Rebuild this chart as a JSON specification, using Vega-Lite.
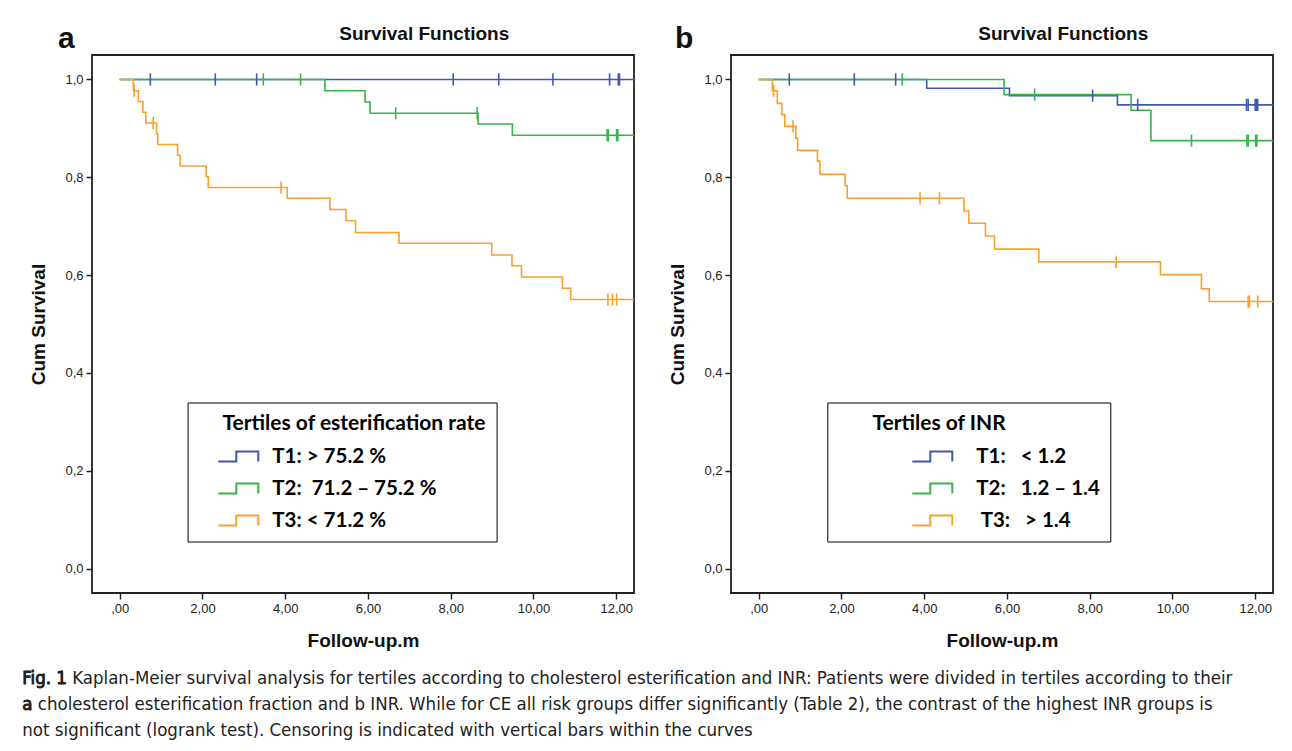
{
  "$schema": "https://vega.github.io/schema/vega-lite/v6.json",
  "background": "white",
  "padding": {"left": 22, "top": 23, "right": 5, "bottom": 5},
  "config": {
    "font": "Liberation Sans",
    "view": {"stroke": "#222", "strokeWidth": 1.8},
    "axis": {"labelFont": "Liberation Sans", "labelFontSize": 13, "labelColor": "#222", "tickColor": "#222", "tickSize": 6, "tickWidth": 1.5, "domain": false, "grid": false, "titleFont": "Liberation Sans", "titleFontSize": 19, "titleFontWeight": "bold", "titleColor": "#111", "labelPadding": 3},
    "legend": {"titleFont": "Lato", "titleFontSize": 21, "titleFontWeight": "bold", "titleColor": "black", "titlePadding": 12, "titleLimit": 400, "labelFont": "Lato", "labelFontSize": 20.5, "labelFontWeight": "bold", "labelColor": "black", "labelLimit": 300, "rowPadding": 10, "padding": 10, "strokeColor": "black", "fillColor": "white", "symbolStrokeWidth": 2, "symbolFillColor": "transparent", "symbolSize": 400}
  },
  "datasets": {
    "km": [
      {"panel": "a", "group": "T1", "t": 0, "s": 1, "c": 0},
      {"panel": "a", "group": "T1", "t": 0.74, "s": 1, "c": 1},
      {"panel": "a", "group": "T1", "t": 2.31, "s": 1, "c": 1},
      {"panel": "a", "group": "T1", "t": 3.31, "s": 1, "c": 1},
      {"panel": "a", "group": "T1", "t": 8.06, "s": 1, "c": 1},
      {"panel": "a", "group": "T1", "t": 9.16, "s": 1, "c": 1},
      {"panel": "a", "group": "T1", "t": 10.47, "s": 1, "c": 1},
      {"panel": "a", "group": "T1", "t": 11.84, "s": 1, "c": 1},
      {"panel": "a", "group": "T1", "t": 12.05, "s": 1, "c": 1},
      {"panel": "a", "group": "T1", "t": 12.08, "s": 1, "c": 1},
      {"panel": "a", "group": "T1", "t": 12.43, "s": 1, "c": 0},
      {"panel": "a", "group": "T2", "t": 0, "s": 1, "c": 0},
      {"panel": "a", "group": "T2", "t": 3.47, "s": 1, "c": 1},
      {"panel": "a", "group": "T2", "t": 4.37, "s": 1, "c": 1},
      {"panel": "a", "group": "T2", "t": 4.96, "s": 0.977, "c": 0},
      {"panel": "a", "group": "T2", "t": 5.93, "s": 0.954, "c": 0},
      {"panel": "a", "group": "T2", "t": 6.05, "s": 0.931, "c": 0},
      {"panel": "a", "group": "T2", "t": 6.67, "s": 0.931, "c": 1},
      {"panel": "a", "group": "T2", "t": 8.64, "s": 0.931, "c": 1},
      {"panel": "a", "group": "T2", "t": 8.66, "s": 0.909, "c": 0},
      {"panel": "a", "group": "T2", "t": 9.49, "s": 0.886, "c": 0},
      {"panel": "a", "group": "T2", "t": 11.78, "s": 0.886, "c": 1},
      {"panel": "a", "group": "T2", "t": 11.81, "s": 0.886, "c": 1},
      {"panel": "a", "group": "T2", "t": 12.01, "s": 0.886, "c": 1},
      {"panel": "a", "group": "T2", "t": 12.04, "s": 0.886, "c": 1},
      {"panel": "a", "group": "T2", "t": 12.43, "s": 0.886, "c": 0},
      {"panel": "a", "group": "T3", "t": 0, "s": 1, "c": 0},
      {"panel": "a", "group": "T3", "t": 0.33, "s": 0.977, "c": 0},
      {"panel": "a", "group": "T3", "t": 0.35, "s": 0.977, "c": 1},
      {"panel": "a", "group": "T3", "t": 0.45, "s": 0.955, "c": 0},
      {"panel": "a", "group": "T3", "t": 0.56, "s": 0.933, "c": 0},
      {"panel": "a", "group": "T3", "t": 0.63, "s": 0.911, "c": 0},
      {"panel": "a", "group": "T3", "t": 0.81, "s": 0.911, "c": 1},
      {"panel": "a", "group": "T3", "t": 0.89, "s": 0.889, "c": 0},
      {"panel": "a", "group": "T3", "t": 0.92, "s": 0.867, "c": 0},
      {"panel": "a", "group": "T3", "t": 1.40, "s": 0.845, "c": 0},
      {"panel": "a", "group": "T3", "t": 1.46, "s": 0.823, "c": 0},
      {"panel": "a", "group": "T3", "t": 2.09, "s": 0.801, "c": 0},
      {"panel": "a", "group": "T3", "t": 2.14, "s": 0.779, "c": 0},
      {"panel": "a", "group": "T3", "t": 3.90, "s": 0.779, "c": 1},
      {"panel": "a", "group": "T3", "t": 4.05, "s": 0.757, "c": 0},
      {"panel": "a", "group": "T3", "t": 5.08, "s": 0.734, "c": 0},
      {"panel": "a", "group": "T3", "t": 5.47, "s": 0.711, "c": 0},
      {"panel": "a", "group": "T3", "t": 5.70, "s": 0.687, "c": 0},
      {"panel": "a", "group": "T3", "t": 6.75, "s": 0.665, "c": 0},
      {"panel": "a", "group": "T3", "t": 8.99, "s": 0.641, "c": 0},
      {"panel": "a", "group": "T3", "t": 9.48, "s": 0.619, "c": 0},
      {"panel": "a", "group": "T3", "t": 9.71, "s": 0.596, "c": 0},
      {"panel": "a", "group": "T3", "t": 10.70, "s": 0.573, "c": 0},
      {"panel": "a", "group": "T3", "t": 10.90, "s": 0.550, "c": 0},
      {"panel": "a", "group": "T3", "t": 11.80, "s": 0.550, "c": 1},
      {"panel": "a", "group": "T3", "t": 11.91, "s": 0.550, "c": 1},
      {"panel": "a", "group": "T3", "t": 12.01, "s": 0.550, "c": 1},
      {"panel": "a", "group": "T3", "t": 12.43, "s": 0.550, "c": 0},
      {"panel": "b", "group": "T1", "t": 0, "s": 1, "c": 0},
      {"panel": "b", "group": "T1", "t": 0.74, "s": 1, "c": 1},
      {"panel": "b", "group": "T1", "t": 2.31, "s": 1, "c": 1},
      {"panel": "b", "group": "T1", "t": 3.31, "s": 1, "c": 1},
      {"panel": "b", "group": "T1", "t": 4.06, "s": 0.982, "c": 0},
      {"panel": "b", "group": "T1", "t": 6.06, "s": 0.967, "c": 0},
      {"panel": "b", "group": "T1", "t": 8.07, "s": 0.967, "c": 1},
      {"panel": "b", "group": "T1", "t": 8.67, "s": 0.948, "c": 0},
      {"panel": "b", "group": "T1", "t": 9.16, "s": 0.948, "c": 1},
      {"panel": "b", "group": "T1", "t": 11.79, "s": 0.948, "c": 1},
      {"panel": "b", "group": "T1", "t": 11.83, "s": 0.948, "c": 1},
      {"panel": "b", "group": "T1", "t": 12.00, "s": 0.948, "c": 1},
      {"panel": "b", "group": "T1", "t": 12.03, "s": 0.948, "c": 1},
      {"panel": "b", "group": "T1", "t": 12.06, "s": 0.948, "c": 1},
      {"panel": "b", "group": "T1", "t": 12.43, "s": 0.948, "c": 0},
      {"panel": "b", "group": "T2", "t": 0, "s": 1, "c": 0},
      {"panel": "b", "group": "T2", "t": 3.47, "s": 1, "c": 1},
      {"panel": "b", "group": "T2", "t": 5.93, "s": 0.969, "c": 0},
      {"panel": "b", "group": "T2", "t": 6.67, "s": 0.969, "c": 1},
      {"panel": "b", "group": "T2", "t": 9.00, "s": 0.937, "c": 0},
      {"panel": "b", "group": "T2", "t": 9.48, "s": 0.875, "c": 0},
      {"panel": "b", "group": "T2", "t": 10.46, "s": 0.875, "c": 1},
      {"panel": "b", "group": "T2", "t": 11.80, "s": 0.875, "c": 1},
      {"panel": "b", "group": "T2", "t": 11.83, "s": 0.875, "c": 1},
      {"panel": "b", "group": "T2", "t": 12.01, "s": 0.875, "c": 1},
      {"panel": "b", "group": "T2", "t": 12.04, "s": 0.875, "c": 1},
      {"panel": "b", "group": "T2", "t": 12.43, "s": 0.875, "c": 0},
      {"panel": "b", "group": "T3", "t": 0, "s": 1, "c": 0},
      {"panel": "b", "group": "T3", "t": 0.33, "s": 0.977, "c": 0},
      {"panel": "b", "group": "T3", "t": 0.36, "s": 0.977, "c": 1},
      {"panel": "b", "group": "T3", "t": 0.45, "s": 0.951, "c": 0},
      {"panel": "b", "group": "T3", "t": 0.56, "s": 0.928, "c": 0},
      {"panel": "b", "group": "T3", "t": 0.63, "s": 0.904, "c": 0},
      {"panel": "b", "group": "T3", "t": 0.83, "s": 0.904, "c": 1},
      {"panel": "b", "group": "T3", "t": 0.90, "s": 0.880, "c": 0},
      {"panel": "b", "group": "T3", "t": 0.94, "s": 0.855, "c": 0},
      {"panel": "b", "group": "T3", "t": 1.42, "s": 0.833, "c": 0},
      {"panel": "b", "group": "T3", "t": 1.48, "s": 0.806, "c": 0},
      {"panel": "b", "group": "T3", "t": 2.09, "s": 0.783, "c": 0},
      {"panel": "b", "group": "T3", "t": 2.14, "s": 0.757, "c": 0},
      {"panel": "b", "group": "T3", "t": 3.90, "s": 0.757, "c": 1},
      {"panel": "b", "group": "T3", "t": 4.37, "s": 0.757, "c": 1},
      {"panel": "b", "group": "T3", "t": 4.96, "s": 0.731, "c": 0},
      {"panel": "b", "group": "T3", "t": 5.08, "s": 0.706, "c": 0},
      {"panel": "b", "group": "T3", "t": 5.48, "s": 0.680, "c": 0},
      {"panel": "b", "group": "T3", "t": 5.70, "s": 0.653, "c": 0},
      {"panel": "b", "group": "T3", "t": 6.77, "s": 0.627, "c": 0},
      {"panel": "b", "group": "T3", "t": 8.64, "s": 0.627, "c": 1},
      {"panel": "b", "group": "T3", "t": 9.71, "s": 0.601, "c": 0},
      {"panel": "b", "group": "T3", "t": 10.70, "s": 0.572, "c": 0},
      {"panel": "b", "group": "T3", "t": 10.89, "s": 0.546, "c": 0},
      {"panel": "b", "group": "T3", "t": 11.83, "s": 0.546, "c": 1},
      {"panel": "b", "group": "T3", "t": 11.86, "s": 0.546, "c": 1},
      {"panel": "b", "group": "T3", "t": 12.06, "s": 0.546, "c": 1},
      {"panel": "b", "group": "T3", "t": 12.43, "s": 0.546, "c": 0}
    ]
  },
  "spacing": 14,
  "vconcat": [
    {
      "spacing": 28,
      "hconcat": [
        {
          "width": 542,
          "height": 538,
          "layer": [
            {
              "data": {"name": "km"},
              "transform": [{"filter": "datum.panel == 'a'"}],
              "mark": {"type": "line", "interpolate": "step-after", "strokeWidth": 1.6},
              "encoding": {
                "x": {"field": "t", "type": "quantitative", "scale": {"domain": [-0.67, 12.43], "nice": false, "zero": false}, "axis": {"values": [0, 2, 4, 6, 8, 10, 12], "labelExpr": "datum.value == 0 ? ',00' : replace(format(datum.value, '.2f'), '.', ',')", "title": "Follow-up.m", "titlePadding": 16}},
                "y": {"field": "s", "type": "quantitative", "scale": {"domain": [-0.05, 1.05], "nice": false, "zero": false}, "axis": {"values": [0, 0.2, 0.4, 0.6, 0.8, 1], "labelExpr": "replace(format(datum.value, '.1f'), '.', ',')", "title": "Cum Survival", "minExtent": 30, "maxExtent": 30, "titlePadding": 14}},
                "color": {"field": "group", "type": "nominal", "scale": {"domain": ["T1", "T2", "T3"], "range": ["#3F58AC", "#36B54A", "#F7A02C"]}, "legend": {"orient": "none", "legendX": 95.6, "legendY": 347.5, "title": "\u200b\u00a0\u00a0\u00a0\u00a0\u00a0Tertiles of esterification rate", "symbolType": "M 0.97 0.5 L 2.77 0.5 L 2.77 -0.5 L 4.97 -0.5 L 4.97 0.5", "symbolStrokeWidth": 2, "symbolFillColor": "transparent", "labelOffset": 52.7, "labelExpr": "datum.label == 'T1' ? 'T1: > 75.2 %' : datum.label == 'T2' ? 'T2:\u00a0 71.2 \u2013 75.2 %' : 'T3: < 71.2 %'", "encode": {"symbols": {"update": {"fill": {"value": "transparent"}, "opacity": {"value": 1}}}}}}
              }
            },
            {
              "data": {"name": "km"},
              "transform": [{"filter": "datum.panel == 'a' && datum.c == 1"}],
              "mark": {"type": "tick", "orient": "vertical", "size": 11, "thickness": 0.4, "filled": false, "strokeWidth": 1.2, "opacity": 1},
              "encoding": {
                "x": {"field": "t", "type": "quantitative"},
                "y": {"field": "s", "type": "quantitative"},
                "color": {"field": "group", "type": "nominal"}
              }
            },
            {
              "data": {"values": [{"lab": "a"}]},
              "mark": {"type": "text", "font": "Liberation Sans", "fontSize": 30, "fontWeight": "bold", "color": "#111", "align": "center", "baseline": "middle"},
              "encoding": {
                "x": {"datum": -1.29, "type": "quantitative"},
                "y": {"datum": 1.082, "type": "quantitative"},
                "text": {"field": "lab"}
              }
            },
            {
              "data": {"values": [{"lab": "Survival Functions"}]},
              "mark": {"type": "text", "font": "Liberation Sans", "fontSize": 19, "fontWeight": "bold", "color": "#111", "align": "center", "baseline": "middle"},
              "encoding": {
                "x": {"datum": 7.36, "type": "quantitative"},
                "y": {"datum": 1.092, "type": "quantitative"},
                "text": {"field": "lab"}
              }
            }
          ]
        },
        {
          "width": 542,
          "height": 538,
          "layer": [
            {
              "data": {"name": "km"},
              "transform": [{"filter": "datum.panel == 'b'"}],
              "mark": {"type": "line", "interpolate": "step-after", "strokeWidth": 1.6},
              "encoding": {
                "x": {"field": "t", "type": "quantitative", "scale": {"domain": [-0.67, 12.43], "nice": false, "zero": false}, "axis": {"values": [0, 2, 4, 6, 8, 10, 12], "labelExpr": "datum.value == 0 ? ',00' : replace(format(datum.value, '.2f'), '.', ',')", "title": "Follow-up.m", "titlePadding": 16}},
                "y": {"field": "s", "type": "quantitative", "scale": {"domain": [-0.05, 1.05], "nice": false, "zero": false}, "axis": {"values": [0, 0.2, 0.4, 0.6, 0.8, 1], "labelExpr": "replace(format(datum.value, '.1f'), '.', ',')", "title": "Cum Survival", "minExtent": 30, "maxExtent": 30, "titlePadding": 14}},
                "color": {"field": "group", "type": "nominal", "scale": {"domain": ["T1", "T2", "T3"], "range": ["#3F58AC", "#36B54A", "#F7A02C"]}, "legend": {"orient": "none", "legendX": 96.3, "legendY": 347.5, "title": "\u200b\u00a0\u00a0\u00a0\u00a0\u00a0\u00a0\u00a0Tertiles of INR", "symbolType": "M 6.4 0.5 L 8.2 0.5 L 8.2 -0.5 L 10.4 -0.5 L 10.4 0.5", "symbolStrokeWidth": 2, "symbolFillColor": "transparent", "labelOffset": 117, "labelExpr": "datum.label == 'T1' ? 'T1:\u00a0\u00a0 < 1.2' : datum.label == 'T2' ? 'T2:\u00a0\u00a0 1.2 \u2013 1.4' : '\u200b\u00a0T3:\u00a0\u00a0 > 1.4'", "encode": {"symbols": {"update": {"fill": {"value": "transparent"}, "opacity": {"value": 1}}}}}}
              }
            },
            {
              "data": {"name": "km"},
              "transform": [{"filter": "datum.panel == 'b' && datum.c == 1"}],
              "mark": {"type": "tick", "orient": "vertical", "size": 11, "thickness": 0.4, "filled": false, "strokeWidth": 1.2, "opacity": 1},
              "encoding": {
                "x": {"field": "t", "type": "quantitative"},
                "y": {"field": "s", "type": "quantitative"},
                "color": {"field": "group", "type": "nominal"}
              }
            },
            {
              "data": {"values": [{"lab": "b"}]},
              "mark": {"type": "text", "font": "Liberation Sans", "fontSize": 30, "fontWeight": "bold", "color": "#111", "align": "center", "baseline": "middle"},
              "encoding": {
                "x": {"datum": -1.80, "type": "quantitative"},
                "y": {"datum": 1.082, "type": "quantitative"},
                "text": {"field": "lab"}
              }
            },
            {
              "data": {"values": [{"lab": "Survival Functions"}]},
              "mark": {"type": "text", "font": "Liberation Sans", "fontSize": 19, "fontWeight": "bold", "color": "#111", "align": "center", "baseline": "middle"},
              "encoding": {
                "x": {"datum": 7.36, "type": "quantitative"},
                "y": {"datum": 1.092, "type": "quantitative"},
                "text": {"field": "lab"}
              }
            }
          ]
        }
      ],
      "resolve": {"scale": {"color": "independent", "x": "independent", "y": "independent"}, "legend": {"color": "independent"}}
    },
    {
      "width": 1150,
      "height": 78,
      "view": {"stroke": null},
      "layer": [
        {
          "data": {"values": [
            {"line": 1, "txt": "Fig. 1 Kaplan-Meier survival analysis for tertiles according to cholesterol esterification and INR: Patients were divided in tertiles according to their"},
            {"line": 2, "txt": "a cholesterol esterification fraction and b INR. While for CE all risk groups differ significantly (Table 2), the contrast of the highest INR groups is"},
            {"line": 3, "txt": "not significant (logrank test). Censoring is indicated with vertical bars within the curves"}
          ]},
          "mark": {"type": "text", "align": "left", "baseline": "middle", "font": "DejaVu Sans Condensed, Open Sans", "fontSize": 18.5, "color": "#222", "dx": -69.7},
          "encoding": {
            "x": {"value": 0},
            "y": {"field": "line", "type": "ordinal", "axis": null, "scale": {"paddingInner": 0, "paddingOuter": 0}},
            "text": {"field": "txt"}
          }
        },
        {
          "data": {"values": [
            {"line": 1, "txt": "Fig. 1"},
            {"line": 2, "txt": "a"}
          ]},
          "mark": {"type": "text", "align": "left", "baseline": "middle", "font": "DejaVu Sans Condensed, Open Sans", "fontSize": 18.5, "color": "#222", "stroke": "#222", "strokeWidth": 0.8, "dx": -69.7},
          "encoding": {
            "x": {"value": 0},
            "y": {"field": "line", "type": "ordinal", "axis": null},
            "text": {"field": "txt"}
          }
        }
      ]
    }
  ]
}
